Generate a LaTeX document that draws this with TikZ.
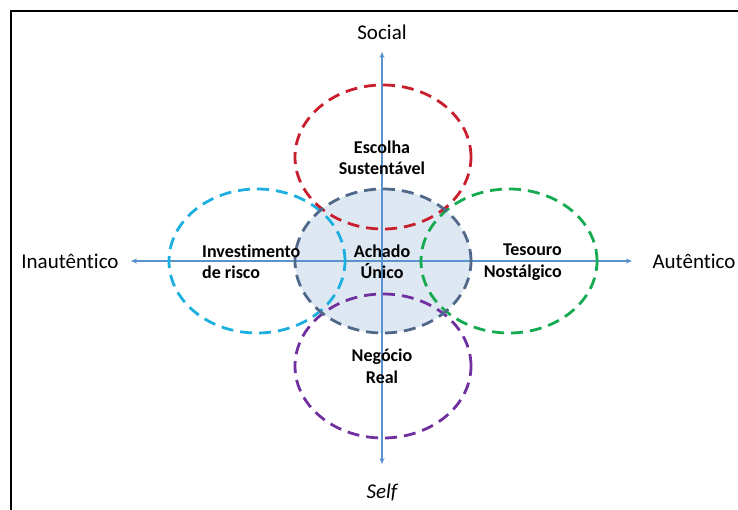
\documentclass[tikz,border=0pt]{standalone}
\usepackage{fontspec}
\setmainfont{Carlito}[Ligatures=NoCommon]
\usetikzlibrary{shapes.geometric,arrows.meta}

\definecolor{quadred}{RGB}{200,30,45}
\definecolor{quadcyan}{RGB}{30,175,225}
\definecolor{quadgreen}{RGB}{20,170,80}
\definecolor{quadpurple}{RGB}{112,48,160}
\definecolor{quadslate}{RGB}{80,104,138}
\definecolor{quadfill}{RGB}{222,232,243}
\definecolor{axisblue}{RGB}{91,145,205}

\begin{document}
\begin{tikzpicture}[x=1pt, y=-1pt,
  quad/.style={draw=#1, ellipse, line width=2.8pt, dash pattern=on 12pt off 7pt,
    minimum width=176pt, minimum height=144pt, inner sep=0pt},
  axis/.style={axisblue, line width=1.3pt, {Stealth[length=6pt,width=5pt]}-{Stealth[length=6pt,width=5pt]}},
  pole/.style={font=\fontsize{21}{24}\selectfont},
  zone/.style={font=\fontsize{18}{21.5}\selectfont\bfseries, inner sep=0pt}]
  \useasboundingbox (0,0) rectangle (738,510);

  % Frame
  \draw[line width=1.5pt] (11,510) -- (11,11) -- (738,11);

  % Central region (filled, behind everything)
  \node[quad=quadslate, fill=quadfill, draw=none] (achadoFill) at (383,261) {};

  % Axes
  \coordinate (axTop) at (382,52);
  \coordinate (axBottom) at (382,464);
  \coordinate (axLeft) at (131,261);
  \coordinate (axRight) at (632,261);
  \draw[axis] (axLeft) -- (axRight);
  \draw[axis] (axTop) -- (axBottom);

  % Quadrant ellipses
  \node[quad=quadcyan] (investimento) at (257,261) {};
  \node[quad=quadgreen] (tesouro) at (509,261) {};
  \node[quad=quadred] (escolha) at (383,157) {};
  \node[quad=quadpurple] (negocio) at (383,366) {};
  \node[quad=quadslate] (achado) at (383,261) {};

  % Pole labels
  \node[pole] (social) at (382,32) {Social};
  \node[pole] (self) at (382,492) {\itshape Self};
  \node[pole] (inautentico) at (70,261) {Inautêntico};
  \node[pole] (autentico) at (694,261) {Autêntico};

  % Region labels
  \node[zone, align=center] (escolhaTxt) at (382,158) {Escolha\\Sustentável};
  \node[zone, align=left, anchor=west] (investimentoTxt) at (202,262) {Investimento\\de risco};
  \node[zone, align=center] (achadoTxt) at (382,262) {Achado\\Único};
  \node[zone, align=right, anchor=east] (tesouroTxt) at (562,262) {Tesouro\\Nostálgico};
  \node[zone, align=center] (negocioTxt) at (382,366) {Negócio\\Real};
\end{tikzpicture}
\end{document}
